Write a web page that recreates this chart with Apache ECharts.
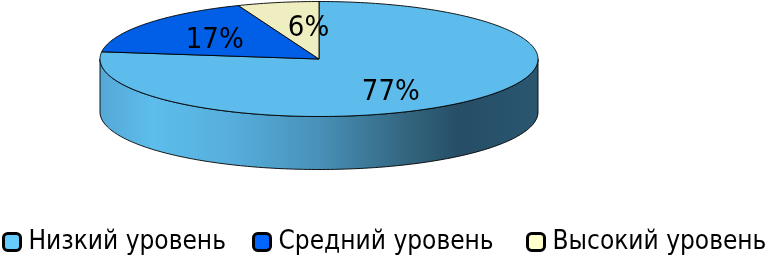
<!DOCTYPE html>
<html>
<head>
<meta charset="utf-8">
<script src="https://cdn.jsdelivr.net/npm/echarts@6/dist/echarts.min.js"></script>
<style>
html,body{margin:0;padding:0;background:#fff;}
#chart{width:766px;height:257px;}
</style>
</head>
<body>
<div id="chart"></div>
<script>
// ---- data ----
var categories = ['Низкий уровень', 'Средний уровень', 'Высокий уровень'];
var values = [77, 17, 6];
var labels = ['77%', '17%', '6%'];

// ---- style ----
var topColors = ['#5DBCEC', '#005FE6', '#EEEEC0'];
var legendColors = ['#66CCFF', '#0066FF', '#FFFFCC'];
var FONT = '"DejaVu Sans Condensed", "DejaVu Sans", sans-serif';
var geo = { cx: 319, cy: 59, rx: 219, ry: 57.5, depth: 53, labelF: 0.62 };
var labelNudge = [[-18, 7], [3, 3], [15, 4]];

var total = values.reduce(function (a, b) { return a + b; }, 0);
function startOf(i) { var s = 0; for (var k = 0; k < i; k++) s += values[k]; return s; }
function pt(t, dy) {
  var r = t * Math.PI / 180;
  return [geo.cx + geo.rx * Math.sin(r), geo.cy - geo.ry * Math.cos(r) + (dy || 0)];
}
function arc(a0, a1, dy) {
  var pts = [], n = Math.max(2, Math.ceil(Math.abs(a1 - a0)));
  for (var k = 0; k <= n; k++) pts.push(pt(a0 + (a1 - a0) * k / n, dy));
  return pts;
}
var sideGrad = {
  type: 'linear', x: 100, y: 0, x2: 538, y2: 0, global: true,
  colorStops: [
    { offset: 0, color: '#55A8D6' },
    { offset: 0.12, color: '#5DBDEC' },
    { offset: 0.3, color: '#56AEDC' },
    { offset: 0.5, color: '#4891B8' },
    { offset: 0.7, color: '#33657F' },
    { offset: 0.82, color: '#264E66' },
    { offset: 1, color: '#2A5670' }
  ]
};

function makeSeries(i) {
  return {
    type: 'custom',
    name: categories[i],
    coordinateSystem: 'none',
    z: 2,
    silent: true,
    data: [[values[i]]],
    renderItem: function (params, api) {
      var v = api.value(0);
      var a0 = startOf(i) / total * 360;
      var a1 = a0 + v / total * 360;
      var children = [];
      var s0 = Math.max(a0, 90), s1 = Math.min(a1, 270);
      if (s1 > s0) {
        var topArc = arc(s0, s1, 0);
        var botArc = arc(s1, s0, geo.depth);
        children.push({
          type: 'polygon', z2: 1,
          shape: { points: topArc.concat(botArc) },
          style: { fill: sideGrad, stroke: '#000', lineWidth: 0.9 }
        });
      }
      var pts = [[geo.cx, geo.cy]].concat(arc(a0, a1, 0));
      children.push({
        type: 'polygon', z2: 10,
        shape: { points: pts },
        style: { fill: topColors[i], stroke: '#000', lineWidth: 0.9, lineJoin: 'round' }
      });
      var mid = (a0 + a1) / 2;
      var lp = pt(mid, 0);
      var lx = geo.cx + (lp[0] - geo.cx) * geo.labelF + labelNudge[i][0];
      var ly = geo.cy + (lp[1] - geo.cy) * geo.labelF + labelNudge[i][1];
      children.push({
        type: 'text', z2: 20,
        style: { text: labels[i], x: lx, y: ly, align: 'center', verticalAlign: 'middle',
                 font: '29px ' + FONT, fill: '#000' }
      });
      return { type: 'group', children: children };
    }
  };
}

var legendLefts = [2, 252, 526];
var legends = categories.map(function (c, i) {
  return {
    left: legendLefts[i], top: 229, padding: 0,
    data: [{ name: c, itemStyle: { color: legendColors[i], borderColor: '#000', borderWidth: 3 } }],
    icon: 'roundRect', itemWidth: 17, itemHeight: 17,
    selectedMode: false,
    textStyle: { fontFamily: FONT, fontSize: 26, lineHeight: 26, color: '#000', padding: [0, 0, 0, 3] }
  };
});

var chart = echarts.init(document.getElementById('chart'), null, { renderer: 'canvas' });
chart.setOption({
  animation: false,
  backgroundColor: '#fff',
  legend: legends,
  series: categories.map(function (c, i) { return makeSeries(i); })
});
</script>
</body>
</html>
